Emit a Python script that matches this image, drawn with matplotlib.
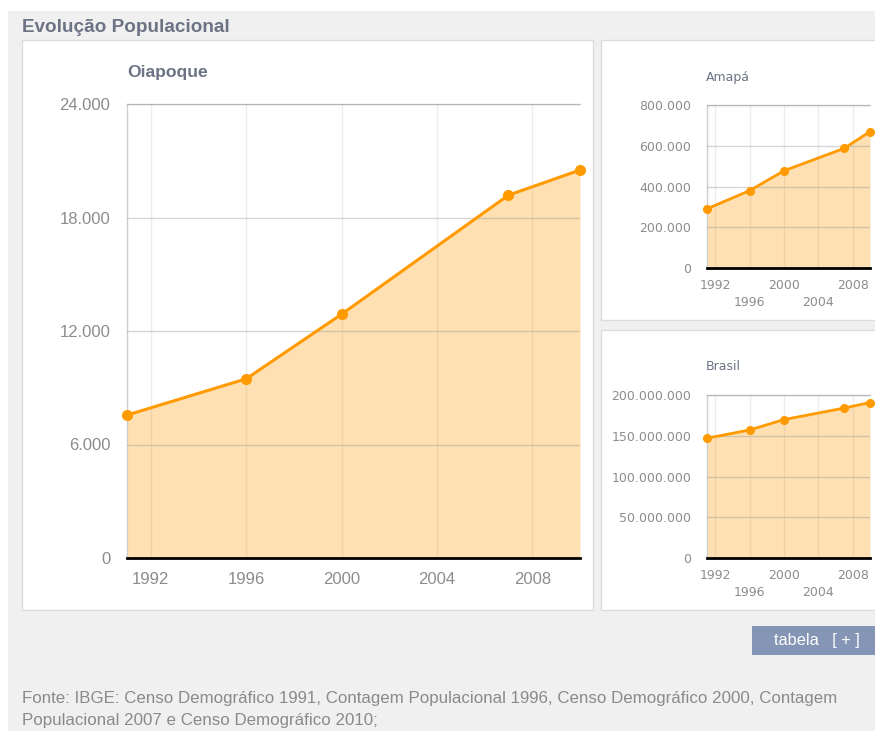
import matplotlib
matplotlib.use("Agg")
import matplotlib.pyplot as plt
from matplotlib.patches import Rectangle
from matplotlib.ticker import FuncFormatter

plt.rcParams['font.family'] = ['Liberation Sans', 'DejaVu Sans']

# ---- data ----
years = [1991, 1996, 2000, 2007, 2010]
oiapoque = [7555, 9473, 12886, 19181, 20509]
amapa = [289397, 379459, 477032, 587311, 669526]
brasil = [146825475, 157070163, 169799170, 183987291, 190755799]

main_title = "Evolução Populacional"
footer_lines = ["Fonte: IBGE: Censo Demográfico 1991, Contagem Populacional 1996, Censo Demográfico 2000, Contagem",
                "Populacional 2007 e Censo Demográfico 2010;"]
xticks = [1992, 1996, 2000, 2004, 2008]
oia_yticks = [0, 6000, 12000, 18000, 24000]
ama_yticks = [0, 200000, 400000, 600000, 800000]
bra_yticks = [0, 50000000, 100000000, 150000000, 200000000]

W, H = 875, 731
fig = plt.figure(figsize=(W / 100, H / 100), dpi=100)
fig.patch.set_facecolor('white')

def box(x0, y0, x1, y1):
    return [x0 / W, 1 - y1 / H, (x1 - x0) / W, (y1 - y0) / H]

# background
bg = fig.add_axes([0, 0, 1, 1])
bg.set_xlim(0, W)
bg.set_ylim(H, 0)
bg.axis('off')
bg.add_patch(Rectangle((8, 11), W, H, facecolor='#f0f0f0', edgecolor='none'))
for (x0, y0, x1, y1) in [(22, 40, 593, 610), (601, 40, 880, 320), (601, 330, 880, 610)]:
    bg.add_patch(Rectangle((x0, y0), x1 - x0, y1 - y0, facecolor='white', edgecolor='#dcdcdc', lw=1))
bg.text(22, 27, main_title, fontsize=13.6, fontweight='bold', color='#6b7384', va='center', ha='left')
bg.text(22, 699, footer_lines[0], fontsize=12.2, color='#8a8a8a', va='center', ha='left')
bg.text(22, 720, footer_lines[1], fontsize=12.2, color='#8a8a8a', va='center', ha='left')
bg.add_patch(Rectangle((752, 626), 130, 29, facecolor='#8595b5', edgecolor='none'))
bg.text(817, 640, "tabela   [ + ]", fontsize=11.8, color='white', va='center', ha='center')

LINE = '#ff9a00'
FILL = '#fee0b2'

def fmt(v, pos):
    return f"{int(v):,}".replace(",", ".")

def draw(rect, vals, yticks, small):
    ax = fig.add_axes(box(*rect))
    ax.set_xlim(1991, 2010)
    ax.set_ylim(0, yticks[-1])
    ax.fill_between(years, vals, 0, color=FILL, lw=0, zorder=1)
    ax.plot(years, vals, color=LINE, lw=2.2 if not small else 2.0, zorder=4, clip_on=False,
            marker='o', ms=7 if not small else 5.5, mec=LINE, mfc=LINE)
    ax.set_yticks(yticks)
    ax.yaxis.set_major_formatter(FuncFormatter(fmt))
    ax.set_xticks(xticks)
    if small:
        labels = ax.set_xticklabels(['1992', '\n1996', '2000', '\n2004', '2008'])
        for lb in labels:
            lb.set_linespacing(1.35)
    else:
        ax.set_xticklabels([str(x) for x in xticks])
    ax.grid(True, axis='y', color='#8a8a8a', alpha=0.35, lw=1, zorder=2)
    ax.grid(True, axis='x', color='#8a8a8a', alpha=0.15, lw=1, zorder=2)
    ax.set_axisbelow(False)
    for s in ['top', 'left']:
        ax.spines[s].set_color('#cfcfcf')
        ax.spines[s].set_linewidth(1)
    ax.spines['right'].set_visible(False)
    ax.spines['bottom'].set_color('black')
    ax.spines['bottom'].set_linewidth(2)
    ax.spines['bottom'].set_zorder(5)
    if small:
        ax.tick_params(length=0, labelsize=9, labelcolor='#8c8c8c')
        ax.tick_params(axis='y', pad=11)
        ax.tick_params(axis='x', pad=8)
        for lb in ax.get_xticklabels() + ax.get_yticklabels():
            lb.set_family('DejaVu Sans')
    else:
        ax.tick_params(length=0, labelsize=12, labelcolor='#8c8c8c')
        ax.tick_params(axis='y', pad=12)
        ax.tick_params(axis='x', pad=10)
    ax.patch.set_alpha(0)
    return ax

draw((127, 104, 580, 558), oiapoque, oia_yticks, False)
draw((706.5, 105, 870, 268), amapa, ama_yticks, True)
draw((706.5, 395, 870, 558), brasil, bra_yticks, True)

bg.text(127, 72, "Oiapoque", fontsize=12.6, fontweight='bold', color='#6b7384', va='center', ha='left')
bg.text(706, 77, "Amapá", fontsize=9, color='#6b7384', va='center', ha='left', family='DejaVu Sans')
bg.text(706, 367, "Brasil", fontsize=9, color='#6b7384', va='center', ha='left', family='DejaVu Sans')

fig.savefig('out.png', dpi=100, facecolor=fig.get_facecolor())
